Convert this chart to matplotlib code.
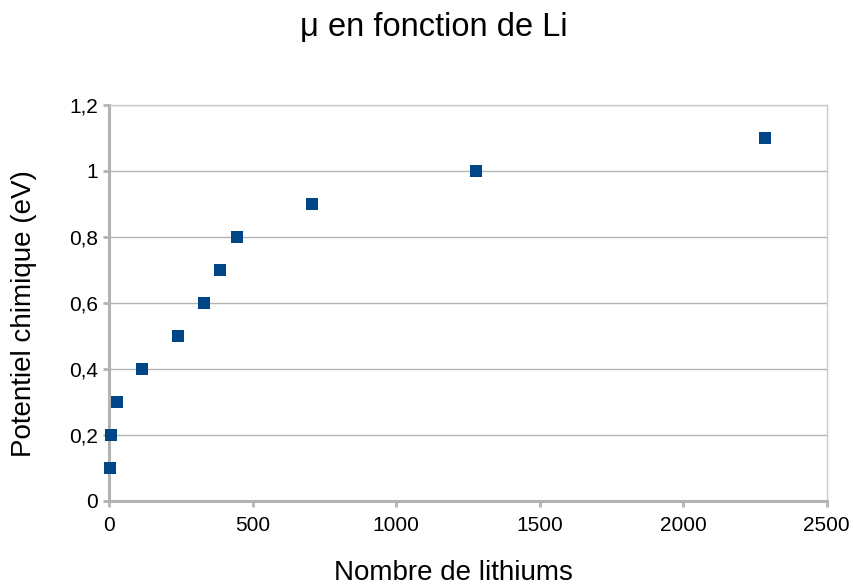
import matplotlib
matplotlib.use("Agg")
import matplotlib.pyplot as plt
from matplotlib.ticker import FuncFormatter, MultipleLocator

# data
n_lithium = [1, 6, 26, 115, 238, 331, 387, 445, 705, 1278, 2285]
potential = [0.1, 0.2, 0.3, 0.4, 0.5, 0.6, 0.7, 0.8, 0.9, 1.0, 1.1]

title = "\u03bc en fonction de Li"
x_label = "Nombre de lithiums"
y_label = "Potentiel chimique (eV)"

plt.rcParams['font.family'] = ['Liberation Sans', 'DejaVu Sans']

W, H = 854, 585
grid_grey = '#b3b3b3'
marker_blue = '#004586'


def comma_fmt(v, pos):
    return f"{v:g}".replace('.', ',')


fig = plt.figure(figsize=(W / 100, H / 100), dpi=100)
left, right, top, bottom = 109.3, 826.7, 104.7, 500.7
ax = fig.add_axes([left / W, (H - bottom) / H, (right - left) / W, (bottom - top) / H])

ax.scatter(n_lithium, potential, marker='s', s=8.2 ** 2, color=marker_blue,
           linewidths=0, zorder=5, clip_on=False)

ax.set_xlim(0, 2500)
ax.set_ylim(0, 1.2)
ax.xaxis.set_major_locator(MultipleLocator(500))
ax.yaxis.set_major_locator(MultipleLocator(0.2))
ax.yaxis.set_major_formatter(FuncFormatter(comma_fmt))
ax.xaxis.set_major_formatter(FuncFormatter(comma_fmt))

ax.grid(axis='y', color=grid_grey, linewidth=1.0)
ax.set_axisbelow(True)

for side in ['left', 'bottom']:
    ax.spines[side].set_color(grid_grey)
    ax.spines[side].set_linewidth(2.2)
for side in ['right', 'top']:
    ax.spines[side].set_color('#cccccc')
    ax.spines[side].set_linewidth(1.0)

ax.tick_params(axis='x', direction='out', length=4, width=2, color=grid_grey,
               pad=7, labelsize=15, labelcolor='black')
ax.tick_params(axis='y', direction='out', length=4, width=2, color=grid_grey,
               pad=4, labelsize=15, labelcolor='black')

fig.text(433.5 / W, 1 - 36 / H, title, ha='center', va='baseline', fontsize=23.5)
fig.text(453 / W, 1 - 579.5 / H, x_label, ha='center', va='baseline', fontsize=20)
fig.text(24 / W, 1 - 314 / H, y_label, ha='center', va='center',
         rotation=90, fontsize=20)

fig.savefig('out.png', dpi=100)
